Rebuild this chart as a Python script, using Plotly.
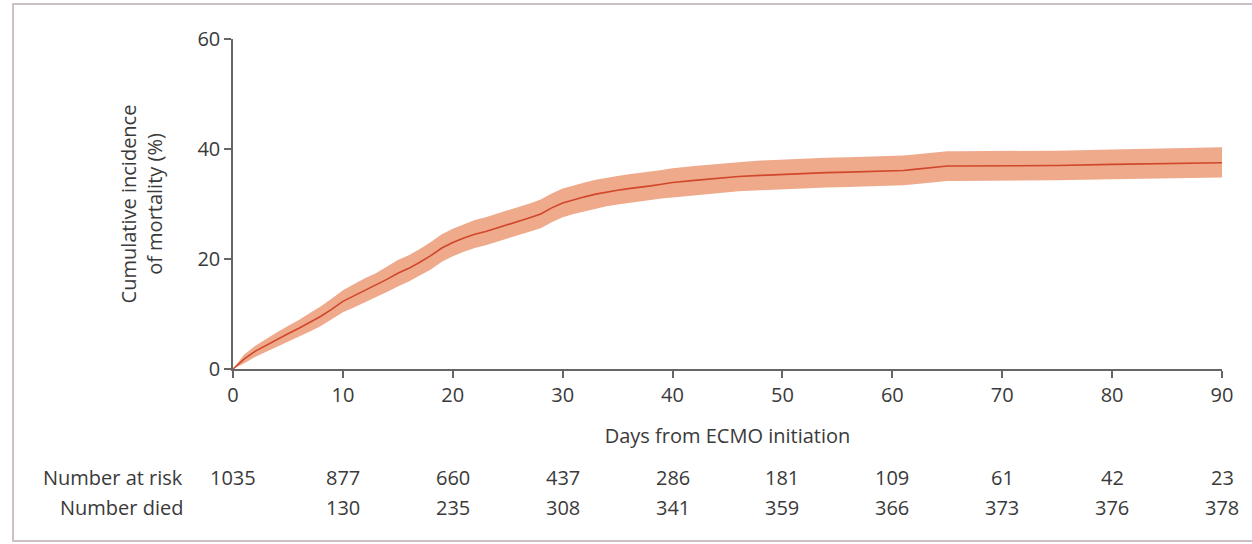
import plotly.graph_objects as go

# ---- data ----
days = list(range(0, 41)) + [42, 44, 46, 48, 50, 52, 54, 56, 58, 60, 61, 62, 63, 64, 65, 66, 70, 75, 80, 85, 90]
incidence = [0.0, 1.8, 3.2, 4.3, 5.4, 6.4, 7.4, 8.5, 9.6, 10.9,
             12.3, 13.3, 14.3, 15.2, 16.3, 17.4, 18.3, 19.4, 20.6, 22.0,
             23.0, 23.8, 24.5, 25.0, 25.6, 26.3, 26.9, 27.5, 28.2, 29.3,
             30.2, 30.8, 31.3, 31.8, 32.2, 32.5, 32.8, 33.0, 33.3, 33.6,
             33.9,
             34.3, 34.7, 35.0, 35.2, 35.4, 35.6, 35.7, 35.8, 35.9, 36.0,
             36.1, 36.3, 36.5, 36.7, 36.9, 36.9, 36.9, 37.0, 37.2, 37.4, 37.5]
lower = [0.0, 1.0, 2.2, 3.1, 4.1, 5.0, 5.9, 6.8, 7.8, 9.0,
         10.3, 11.2, 12.1, 13.0, 14.0, 15.0, 15.9, 17.0, 18.1, 19.5,
         20.5, 21.3, 22.0, 22.5, 23.1, 23.7, 24.3, 24.9, 25.6, 26.7,
         27.6, 28.2, 28.7, 29.2, 29.6, 29.9, 30.2, 30.4, 30.7, 31.0,
         31.2,
         31.6, 32.0, 32.3, 32.5, 32.7, 32.9, 33.0, 33.1, 33.2, 33.3,
         33.4, 33.6, 33.8, 34.0, 34.2, 34.2, 34.2, 34.3, 34.5, 34.7, 34.8]
upper = [0.0, 2.6, 4.2, 5.5, 6.7, 7.8, 8.9, 10.2, 11.4, 12.8,
         14.3, 15.4, 16.5, 17.4, 18.6, 19.8, 20.7, 21.8, 23.1, 24.5,
         25.5, 26.3, 27.1, 27.6, 28.2, 28.9, 29.5, 30.1, 30.8, 31.9,
         32.8, 33.4, 33.9, 34.4, 34.8, 35.1, 35.4, 35.6, 35.9, 36.2,
         36.5,
         36.9, 37.3, 37.6, 37.9, 38.1, 38.3, 38.4, 38.5, 38.6, 38.7,
         38.8, 39.0, 39.2, 39.4, 39.6, 39.6, 39.6, 39.7, 39.9, 40.1, 40.3]

table_days = [0, 10, 20, 30, 40, 50, 60, 70, 80, 90]
number_at_risk = [1035, 877, 660, 437, 286, 181, 109, 61, 42, 23]
number_died = [None, 130, 235, 308, 341, 359, 366, 373, 376, 378]
row_labels = ["Number at risk", "Number died"]

x_ticks = [0, 10, 20, 30, 40, 50, 60, 70, 80, 90]
y_ticks = [0, 20, 40, 60]

# ---- styling ----
FONT = "Open Sans"
FS = 20
TXT = "#3a3a3a"
AXIS = "#666666"
BAND = "#EFAA8C"
LINE = "#D0472B"

fig = go.Figure()
fig.add_trace(go.Scatter(x=days, y=upper, mode="lines", line=dict(width=0),
                         hoverinfo="skip", showlegend=False))
fig.add_trace(go.Scatter(x=days, y=lower, mode="lines", line=dict(width=0),
                         fill="tonexty", fillcolor=BAND,
                         hoverinfo="skip", showlegend=False))
fig.add_trace(go.Scatter(x=days, y=incidence, mode="lines",
                         line=dict(color=LINE, width=1.6), showlegend=False))

# risk table
row_y = [-0.330, -0.421]
for label, yy in zip(row_labels, row_y):
    fig.add_annotation(x=-0.0485, y=yy, xref="paper", yref="paper", text=label,
                       showarrow=False, xanchor="right", yanchor="middle",
                       font=dict(family=FONT, size=FS, color=TXT))
for d, r, n in zip(table_days, number_at_risk, number_died):
    fig.add_annotation(x=d, y=row_y[0], xref="x", yref="paper", text=str(r),
                       showarrow=False, xanchor="center", yanchor="middle",
                       font=dict(family=FONT, size=FS, color=TXT))
    if n is not None:
        fig.add_annotation(x=d, y=row_y[1], xref="x", yref="paper", text=str(n),
                           showarrow=False, xanchor="center", yanchor="middle",
                           font=dict(family=FONT, size=FS, color=TXT))

# outer frame
fig.add_shape(type="rect", xref="paper", yref="paper",
              x0=-0.2224, x1=1.05, y0=-0.521, y1=1.106,
              line=dict(color="#CDBFC8", width=2), fillcolor="rgba(0,0,0,0)", layer="below")

fig.update_layout(
    width=1252, height=544,
    margin=dict(l=233, r=30, t=39, b=175),
    paper_bgcolor="white", plot_bgcolor="white",
    font=dict(family=FONT, size=FS, color=TXT),
    showlegend=False,
)
fig.update_xaxes(range=[0, 90], tickvals=x_ticks, ticks="outside", ticklen=7,
                 tickwidth=1.5, tickcolor=AXIS, showline=True, linecolor=AXIS,
                 linewidth=1.5, showgrid=False, zeroline=False,
                 tickfont=dict(family=FONT, size=FS, color=TXT),
                 title=dict(text="Days from ECMO initiation", standoff=22,
                            font=dict(family=FONT, size=FS, color=TXT)))
fig.update_yaxes(range=[0, 60], tickvals=y_ticks, ticks="outside", ticklen=7,
                 tickwidth=1.5, tickcolor=AXIS, showline=True, linecolor=AXIS,
                 linewidth=1.5, showgrid=False, zeroline=False,
                 tickfont=dict(family=FONT, size=FS, color=TXT),
                 title=dict(text="Cumulative incidence<br>of mortality (%)", standoff=29,
                            font=dict(family=FONT, size=FS, color=TXT)))

fig.write_html("out.html")
